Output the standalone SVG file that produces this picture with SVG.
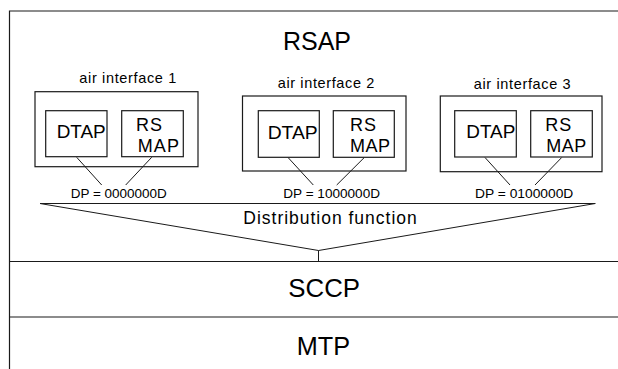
<svg xmlns="http://www.w3.org/2000/svg" width="618" height="369" viewBox="0 0 618 369">
<style>
.bx{fill:none;stroke:#1a1a1a;stroke-width:1.2}
.ln{fill:none;stroke:#1a1a1a;stroke-width:1}
.t{font-family:"Liberation Sans",Arial,sans-serif;fill:#000}
.big{font-size:25px}
.lab{font-size:14.5px}
.in{font-size:18px}
.dp{font-size:12.5px}
.df{font-size:17.5px}
</style>
<rect width="618" height="369" fill="#fff"/>
<g id="frame">
<path class="bx" d="M618 11H9.5V369"/>
<line class="bx" x1="9.5" y1="261.5" x2="618" y2="261.5" stroke-width="1.5"/>
<line class="bx" x1="9.5" y1="317" x2="618" y2="317" stroke-width="1.5"/>
</g>
<g id="rsap"><text class="t big" x="283" y="50" font-size="26" textLength="68" lengthAdjust="spacingAndGlyphs">RSAP</text></g>
<g id="air1">
<text class="t lab" x="79.3" y="83.3" textLength="97" lengthAdjust="spacing">air interface 1</text>
<rect class="bx" x="35" y="91.7" width="163" height="75"/>
</g>
<g id="dtap1">
<rect class="bx" x="45.7" y="110.7" width="61.3" height="46"/>
<text class="t in" x="56.7" y="138.3" textLength="49" lengthAdjust="spacingAndGlyphs">DTAP</text>
</g>
<g id="rsmap1">
<rect class="bx" x="121.7" y="110.7" width="61.6" height="46"/>
<text class="t in" x="136" y="131" textLength="26" lengthAdjust="spacing">RS</text>
<text class="t in" x="137.7" y="152.3" textLength="41.3" lengthAdjust="spacing">MAP</text>
</g>
<g id="air2">
<text class="t lab" x="277.7" y="88.3" textLength="96.6" lengthAdjust="spacing">air interface 2</text>
<rect class="bx" x="242.5" y="96" width="163.5" height="75"/>
</g>
<g id="dtap2">
<rect class="bx" x="258.3" y="110.7" width="61" height="46.6"/>
<text class="t in" x="267.7" y="139" textLength="50" lengthAdjust="spacingAndGlyphs">DTAP</text>
</g>
<g id="rsmap2">
<rect class="bx" x="333.3" y="110.7" width="61" height="46.6"/>
<text class="t in" x="350" y="130.7" textLength="26" lengthAdjust="spacing">RS</text>
<text class="t in" x="350" y="151.7" textLength="40" lengthAdjust="spacing">MAP</text>
</g>
<g id="air3">
<text class="t lab" x="473.7" y="89" textLength="97" lengthAdjust="spacing">air interface 3</text>
<rect class="bx" x="440.3" y="96" width="161.7" height="75.7"/>
</g>
<g id="dtap3">
<rect class="bx" x="454.7" y="110.7" width="61.6" height="46.3"/>
<text class="t in" x="466.3" y="138.3" textLength="49" lengthAdjust="spacingAndGlyphs">DTAP</text>
</g>
<g id="rsmap3">
<rect class="bx" x="530.7" y="110.7" width="61.6" height="46.3"/>
<text class="t in" x="545.3" y="131" textLength="26" lengthAdjust="spacing">RS</text>
<text class="t in" x="546.3" y="152" textLength="40" lengthAdjust="spacing">MAP</text>
</g>
<g id="distribution">
<text class="t dp" x="70.7" y="198.3" textLength="96" lengthAdjust="spacingAndGlyphs">DP = 0000000D</text>
<text class="t dp" x="283.3" y="198.3" textLength="96.7" lengthAdjust="spacingAndGlyphs">DP = 1000000D</text>
<text class="t dp" x="475" y="198.3" textLength="98.3" lengthAdjust="spacingAndGlyphs">DP = 0100000D</text>
<path class="ln" d="M40 203.5H595.3L318.5 250.5Z" stroke-width="1.2"/>
<text class="t df" x="243.3" y="224.3" textLength="173.4" lengthAdjust="spacing">Distribution function</text>
</g>
<g id="sccp"><text class="t big" x="288.3" y="296.7" font-size="23.5" textLength="71.7" lengthAdjust="spacingAndGlyphs">SCCP</text></g>
<g id="mtp"><text class="t big" x="296.7" y="355" font-size="24.5" textLength="53.3" lengthAdjust="spacingAndGlyphs">MTP</text></g>
<g id="connectors">
<line class="ln" x1="76.7" y1="157.3" x2="101.7" y2="185"/>
<line class="ln" x1="151.7" y1="157.3" x2="125.7" y2="185"/>
<line class="ln" x1="288.3" y1="157.8" x2="313.3" y2="185"/>
<line class="ln" x1="364" y1="157.8" x2="336.7" y2="185"/>
<line class="ln" x1="485" y1="157.5" x2="510" y2="185"/>
<line class="ln" x1="561.7" y1="157.5" x2="535" y2="185"/>
<line class="ln" x1="318.5" y1="250.5" x2="318.5" y2="261.5"/>
</g>
</svg>
